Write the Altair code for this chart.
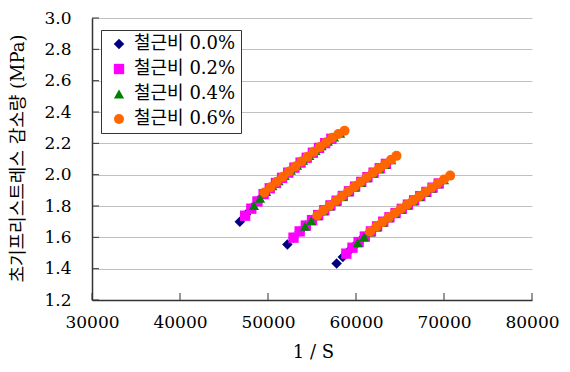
import altair as alt
import pandas as pd

series = ["철근비 0.0%", "철근비 0.2%", "철근비 0.4%", "철근비 0.6%"]
colors = ["#000080", "#FF00FF", "#008000", "#FF6600"]
shapes = ["diamond", "square", "triangle-up", "circle"]
sizes = [110, 100, 120, 150]

# 철근비 0.0%
x_00 = [46800, 47500, 48200, 48900, 49600, 50300, 51000, 51700, 52400, 53100, 53800, 54500, 55200, 55900,
        52200, 52900, 53600, 54300, 55000, 55700, 56400, 57100, 57800, 58500, 59200, 59900, 60600, 61300,
        57800, 58500, 59200, 59900, 60600, 61300, 62000, 62700, 63400, 64100, 64800, 65500, 66200, 66900]
y_00 = [1.700, 1.745, 1.790, 1.836, 1.882, 1.918, 1.952, 1.985, 2.018, 2.050, 2.082, 2.113, 2.144, 2.175,
        1.555, 1.598, 1.638, 1.675, 1.710, 1.742, 1.773, 1.804, 1.834, 1.864, 1.894, 1.924, 1.954, 1.984,
        1.433, 1.474, 1.513, 1.550, 1.586, 1.620, 1.652, 1.683, 1.712, 1.740, 1.767, 1.794, 1.821, 1.848]

# 철근비 0.2%
x_02 = [47400, 48100, 48800, 49500, 50200, 50900, 51600, 52300, 53000, 53700, 54400, 55100, 55800, 56500, 57200,
        52900, 53600, 54300, 55000, 55700, 56400, 57100, 57800, 58500, 59200, 59900, 60600, 61300, 62000, 62700, 63400,
        58900, 59600, 60300, 61000, 61700, 62400, 63100, 63800, 64500, 65200, 65900, 66600, 67300, 68000, 68700, 69400]
y_02 = [1.738, 1.783, 1.829, 1.876, 1.913, 1.947, 1.980, 2.013, 2.045, 2.077, 2.108, 2.140, 2.171, 2.201, 2.229,
        1.598, 1.638, 1.675, 1.710, 1.742, 1.773, 1.804, 1.834, 1.864, 1.894, 1.924, 1.954, 1.984, 2.013, 2.041, 2.069,
        1.496, 1.534, 1.570, 1.605, 1.638, 1.670, 1.700, 1.728, 1.755, 1.782, 1.809, 1.836, 1.863, 1.890, 1.917, 1.944]

# 철근비 0.4%
x_04 = [48400, 49100, 49800, 50500, 51200, 51900, 52600, 53300, 54000, 54700, 55400, 56100, 56800, 57500, 58200,
        54200, 54900, 55600, 56300, 57000, 57700, 58400, 59100, 59800, 60500, 61200, 61900, 62600, 63300, 64000,
        60200, 60900, 61600, 62300, 63000, 63700, 64400, 65100, 65800, 66500, 67200, 67900, 68600, 69300, 70000]
y_04 = [1.803, 1.849, 1.892, 1.928, 1.961, 1.994, 2.027, 2.059, 2.091, 2.122, 2.153, 2.184, 2.213, 2.240, 2.263,
        1.670, 1.705, 1.737, 1.769, 1.800, 1.830, 1.860, 1.890, 1.920, 1.950, 1.980, 2.009, 2.037, 2.065, 2.094,
        1.565, 1.601, 1.634, 1.665, 1.695, 1.724, 1.752, 1.779, 1.806, 1.833, 1.860, 1.887, 1.914, 1.941, 1.967]

# 철근비 0.6%
x_06 = [49600, 50300, 51000, 51700, 52400, 53100, 53800, 54500, 55200, 55900, 56600, 57300, 58000, 58700,
        55600, 56300, 57000, 57700, 58400, 59100, 59800, 60500, 61200, 61900, 62600, 63300, 64000, 64600,
        61600, 62300, 63000, 63700, 64400, 65100, 65800, 66500, 67200, 67900, 68600, 69300, 70000, 70700]
y_06 = [1.886, 1.920, 1.954, 1.987, 2.020, 2.052, 2.084, 2.115, 2.146, 2.177, 2.207, 2.236, 2.260, 2.280,
        1.739, 1.771, 1.802, 1.832, 1.862, 1.892, 1.922, 1.952, 1.982, 2.011, 2.039, 2.067, 2.096, 2.120,
        1.636, 1.667, 1.697, 1.726, 1.754, 1.781, 1.808, 1.835, 1.862, 1.889, 1.916, 1.943, 1.969, 1.994]

x_ticks = [30000, 40000, 50000, 60000, 70000, 80000]
y_ticks = [1.2, 1.4, 1.6, 1.8, 2.0, 2.2, 2.4, 2.6, 2.8, 3.0]

rows = []
for name, xs, ys in zip(series, [x_00, x_02, x_04, x_06], [y_00, y_02, y_04, y_06]):
    for xv, yv in zip(xs, ys):
        rows.append({"series": name, "x": xv, "y": yv})
df = pd.DataFrame(rows)
df["order"] = range(len(df))

W, H = 440, 282
NUM_FONT = "DejaVu Serif"
KR_FONT = "DejaVu Serif, Noto Sans CJK KR"
AX = "#333333"

xscale = alt.Scale(domain=[30000, 80000], nice=False, zero=False)
yscale = alt.Scale(domain=[1.2, 3.0], nice=False, zero=False)

x_axis = alt.Axis(values=x_ticks, format="d", title="1 / S", grid=False, ticks=False,
                  labelPadding=14, labelFont=NUM_FONT, labelFontSize=17, labelColor="#000",
                  labelFlush=False, labelOverlap=False,
                  domainColor=AX, domainWidth=1.5,
                  titleFont=KR_FONT, titleFontSize=18, titleFontWeight="normal", titleColor="#000",
                  titleX=221, titleY=52, titleBaseline="middle")
y_axis = alt.Axis(values=y_ticks, format=".1f", title="초기프리스트레스 감소량 (MPa)", grid=True,
                  gridColor="#c0c0c0", gridWidth=1, ticks=False,
                  labelPadding=21, labelFont=NUM_FONT, labelFontSize=17, labelColor="#000",
                  labelFlush=False, labelOverlap=False,
                  domainColor=AX, domainWidth=1.5,
                  titleFont=KR_FONT, titleFontSize=18, titleFontWeight="normal", titleColor="#000",
                  titleX=-74, titleY=140, titleAngle=270, titleAlign="center",
                  titleBaseline="middle")

points = alt.Chart(df).mark_point(filled=True, opacity=1, strokeWidth=0).encode(
    x=alt.X("x:Q", scale=xscale, axis=x_axis),
    y=alt.Y("y:Q", scale=yscale, axis=y_axis),
    color=alt.Color("series:N", scale=alt.Scale(domain=series, range=colors),
                    legend=alt.Legend(title=None, orient="none", legendX=9, legendY=12,
                                      fillColor="white", strokeColor=AX,
                                      padding=5, rowPadding=7, symbolSize=70, symbolOffset=4,
                                      labelOffset=6, labelFont=KR_FONT, labelFontSize=18,
                                      labelColor="#000", symbolStrokeWidth=0)),
    shape=alt.Shape("series:N", scale=alt.Scale(domain=series, range=shapes)),
    size=alt.Size("series:N", scale=alt.Scale(domain=series, range=sizes), legend=None),
    order=alt.Order("order:Q"),
)

xt = alt.Chart(pd.DataFrame({"x": x_ticks})).mark_rule(color=AX, strokeWidth=1).encode(
    x=alt.X("x:Q", scale=xscale, axis=x_axis),
    y=alt.value(H), y2=alt.value(H - 7),
)
yt = alt.Chart(pd.DataFrame({"y": y_ticks})).mark_rule(color=AX, strokeWidth=1).encode(
    y=alt.Y("y:Q", scale=yscale, axis=y_axis),
    x=alt.value(0), x2=alt.value(7),
)

chart = alt.layer(points, xt, yt).properties(
    width=W, height=H, autosize="none",
    padding={"left": 84, "top": 10, "right": 30, "bottom": 62},
).configure_view(stroke=None)

chart.save("out.html", embed_options={"renderer": "svg", "actions": False})
